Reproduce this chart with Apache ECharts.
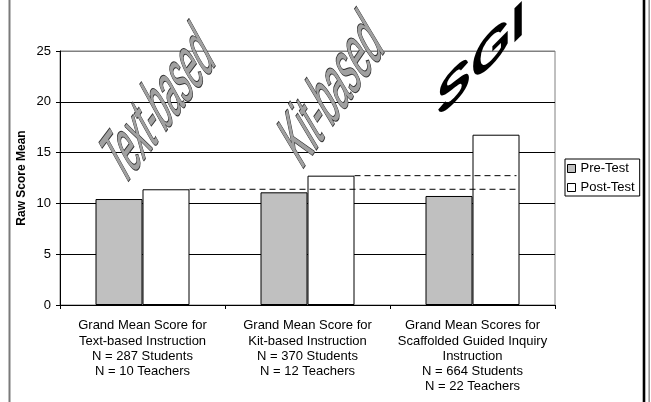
<!DOCTYPE html>
<html>
<head>
<meta charset="utf-8">
<script src="https://cdn.jsdelivr.net/npm/echarts@6/dist/echarts.min.js"></script>
<style>
  html, body { margin: 0; padding: 0; background: #fff; }
  #chart { width: 651px; height: 402px; }
</style>
</head>
<body>
<div id="chart"></div>
<script>
// Category captions under each pair of bars
const categories = [
  'Grand Mean Score for\nText-based Instruction\nN = 287 Students\nN = 10 Teachers',
  'Grand Mean Score for\nKit-based Instruction\nN = 370 Students\nN = 12 Teachers',
  'Grand Mean Scores for\nScaffolded Guided Inquiry\nInstruction\nN = 664 Students\nN = 22 Teachers'
];
const seriesNames = ['Pre-Test', 'Post-Test'];
const preTest = [10.43, 11.09, 10.73];
const postTest = [11.39, 12.73, 16.76];
const yTicks = [0, 5, 10, 15, 20, 25];
const approachLabels = ['Text-based', 'Kit-based', 'SGI'];

const FONT = 'Liberation Sans, Arial, Helvetica, sans-serif';
const deg = d => d * Math.PI / 180;

// plot geometry
const GRID = { left: 60, right: 96, top: 51, bottom: 97 };
const plotW = 651 - GRID.left - GRID.right;
const catW = plotW / categories.length;
const BAR_W = 47;
const barFrac = BAR_W / catW;

// dashed guides start at the right edge of a post-test bar and run to the last post-test bar
const guideEnd = categories.length - 0.5 + barFrac - 3 / catW;
const guide = i => [[i + 0.5 + barFrac, postTest[i]], [guideEnd, postTest[i]]];

const chart = echarts.init(document.getElementById('chart'), null, { renderer: 'canvas' });

const wordArtStyle = (text, size) => ({
  text: text,
  font: size + 'px ' + FONT,
  fill: '#a0a0a0',
  stroke: '#333',
  lineWidth: 1.6,
  align: 'center', verticalAlign: 'middle',
  textAlign: 'center', textVerticalAlign: 'middle'
});

chart.setOption({
  animation: false,
  backgroundColor: '#fff',
  textStyle: { fontFamily: FONT },
  grid: {
    left: GRID.left, right: GRID.right, top: GRID.top, bottom: GRID.bottom,
    show: true, borderColor: '#808080', borderWidth: 1, backgroundColor: 'transparent'
  },
  legend: {
    orient: 'vertical',
    left: 565, top: 159,
    padding: [3, 5, 2, 2],
    itemWidth: 8, itemHeight: 8, itemGap: 6,
    borderColor: '#000', borderWidth: 1, backgroundColor: '#fff',
    icon: 'rect',
    textStyle: { fontSize: 13, color: '#000', fontFamily: FONT },
    data: [
      { name: seriesNames[0], itemStyle: { color: '#c0c0c0', borderColor: '#000', borderWidth: 1 } },
      { name: seriesNames[1], itemStyle: { color: '#fff', borderColor: '#000', borderWidth: 1 } }
    ]
  },
  xAxis: [
    {
      type: 'category',
      data: categories,
      axisLine: { lineStyle: { color: '#000', width: 1 } },
      axisTick: { show: true, length: 4, inside: false, lineStyle: { color: '#000' } },
      axisLabel: {
        interval: 0, margin: 13, color: '#000', fontSize: 13,
        lineHeight: 15.3, fontFamily: FONT
      },
      splitLine: { show: false }
    },
    {
      type: 'value', min: 0, max: categories.length, show: false
    }
  ],
  yAxis: {
    type: 'value',
    min: yTicks[0], max: yTicks[yTicks.length - 1], interval: yTicks[1] - yTicks[0],
    name: 'Raw Score Mean',
    nameLocation: 'middle',
    nameGap: 32,
    nameMoveOverlap: false,
    nameTextStyle: { fontWeight: 'bold', fontSize: 12, color: '#000', fontFamily: FONT },
    axisLine: { show: true, lineStyle: { color: '#000', width: 1 } },
    axisTick: { show: true, length: 4, lineStyle: { color: '#000' } },
    axisLabel: { color: '#000', fontSize: 13, margin: 9, fontFamily: FONT },
    splitLine: {
      show: true,
      lineStyle: { color: ['#000', '#000', '#000', '#000', '#000', '#808080'], width: 1 }
    }
  },
  series: [
    {
      name: seriesNames[0], type: 'bar', data: preTest,
      barWidth: BAR_W, barGap: '0%',
      itemStyle: { color: '#c0c0c0', borderColor: '#000', borderWidth: 1 },
      z: 3
    },
    {
      name: seriesNames[1], type: 'bar', data: postTest,
      barWidth: BAR_W, barGap: '0%',
      itemStyle: { color: '#fff', borderColor: '#000', borderWidth: 1 },
      z: 3
    },
    {
      name: 'guide-text', type: 'line', xAxisIndex: 1, data: guide(0),
      symbol: 'none', silent: true, z: 6,
      lineStyle: { color: '#000', width: 1, type: [6, 4] }
    },
    {
      name: 'guide-kit', type: 'line', xAxisIndex: 1, data: guide(1),
      symbol: 'none', silent: true, z: 6,
      lineStyle: { color: '#000', width: 1, type: [6, 4] }
    }
  ],
  graphic: [
    // page frame
    { type: 'rect', shape: { x: 8.5, y: 0, width: 2, height: 402 }, style: { fill: '#7a7a7a' }, z: 0 },
    { type: 'rect', shape: { x: 642.7, y: 0, width: 2.6, height: 402 }, style: { fill: '#000' }, z: 0 },
    { type: 'rect', shape: { x: 648.5, y: 0, width: 1.3, height: 402 }, style: { fill: '#7a7a7a' }, z: 0 },
    // slanted titles over the bar groups
    {
      type: 'text', x: 160, y: 108, rotation: deg(53), skewX: deg(-24),
      scaleX: 0.575, scaleY: 1.22, z: 100, silent: true,
      style: wordArtStyle(approachLabels[0], 55)
    },
    {
      type: 'text', x: 333, y: 93, rotation: deg(55), skewX: deg(-24),
      scaleX: 0.63, scaleY: 1.22, z: 100, silent: true,
      style: wordArtStyle(approachLabels[1], 55)
    },
    {
      type: 'text', x: 481, y: 62, skewY: deg(45),
      scaleX: 1.35, scaleY: 1.3, z: 100, silent: true,
      style: {
        text: approachLabels[2],
        font: 'bold 38px ' + FONT,
        fill: '#000',
        align: 'center', verticalAlign: 'middle',
        textAlign: 'center', textVerticalAlign: 'middle'
      }
    }
  ]
});
</script>
</body>
</html>
